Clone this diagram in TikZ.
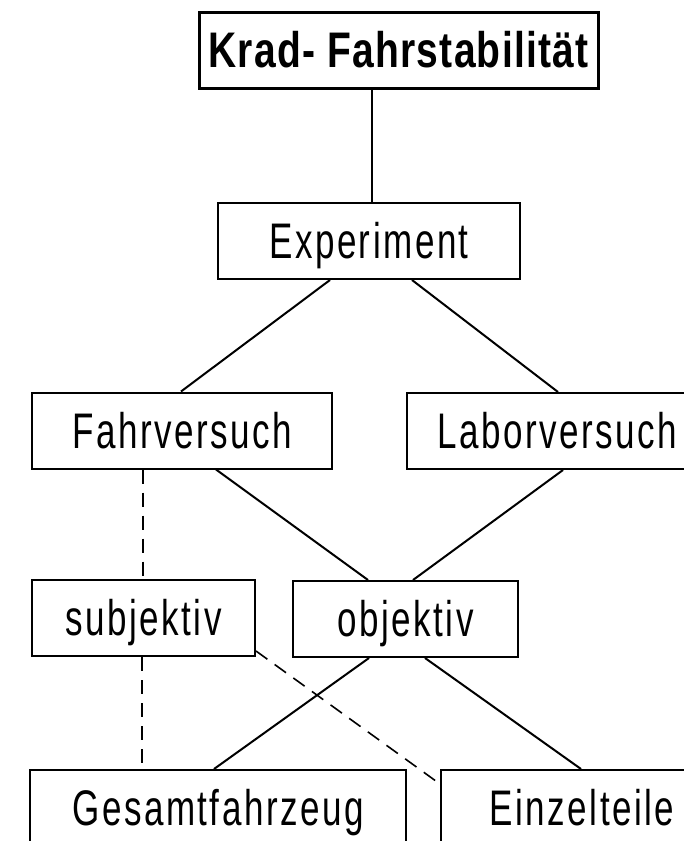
\documentclass[tikz,border=0pt]{standalone}
\usepackage{fontspec}
\setmainfont{Liberation Sans}[FakeStretch=0.7, LetterSpace=5]
\newfontfamily\titlefont{Liberation Sans}[FakeStretch=0.78, LetterSpace=2.5]
\begin{document}
\begin{tikzpicture}[x=1pt, y=-1pt,
  box/.style={draw, line width=2pt, minimum height=76pt, inner sep=0pt,
    text height=35.8pt, text depth=0pt, font=\fontsize{50}{60}\selectfont},
  titlebox/.style={box, line width=3pt, font=\titlefont\bfseries\fontsize{50}{60}\selectfont},
  link/.style={line width=2pt},
  dlink/.style={line width=1.6pt, dash pattern=on 14pt off 9pt}]
\useasboundingbox (0,0) rectangle (684,841);
\clip (0,0) rectangle (684,841);
\node[titlebox, minimum width=399pt] (title) at (398.5,50) {Krad- Fahrstabilität};
\node[box, minimum width=302pt] (exp) at (369,241) {Experiment};
\node[box, minimum width=300pt] (fahr) at (182,430.5) {Fahrversuch};
\node[box, minimum width=300pt] (labor) at (557,431) {Laborversuch};
\node[box, minimum width=223pt] (subj) at (143.5,618) {subjektiv};
\node[box, minimum width=225pt] (obj) at (405.5,619) {objektiv};
\node[box, minimum width=376pt] (gesamt) at (218,808) {Gesamtfahrzeug};
\node[box, minimum width=282pt] (einzel) at (582,808) {Einzelteile};
% solid connectors
\draw[link] ([xshift=-26.5pt]title.south) -- ([xshift=3pt]exp.north);
\draw[link] ([xshift=-39pt]exp.south) -- ([xshift=-1pt]fahr.north);
\draw[link] ([xshift=43pt]exp.south) -- ([xshift=1pt]labor.north);
\draw[link] ([xshift=34pt]fahr.south) -- ([xshift=-37.5pt]obj.north);
\draw[link] ([xshift=6pt]labor.south) -- ([xshift=7.5pt]obj.north);
\draw[link] ([xshift=-36.5pt]obj.south) -- ([xshift=-4pt]gesamt.north);
\draw[link] ([xshift=19.5pt]obj.south) -- ([xshift=-1pt]einzel.north);
% dashed connectors
\draw[dlink] ([xshift=-39pt]fahr.south) -- ([xshift=-0.5pt]subj.north);
\draw[dlink] ([xshift=-1.5pt]subj.south) -- ([xshift=-76pt]gesamt.north);
\draw[dlink] ([yshift=6pt]subj.south east) -- ([yshift=-15pt]einzel.north west);
\end{tikzpicture}
\end{document}
